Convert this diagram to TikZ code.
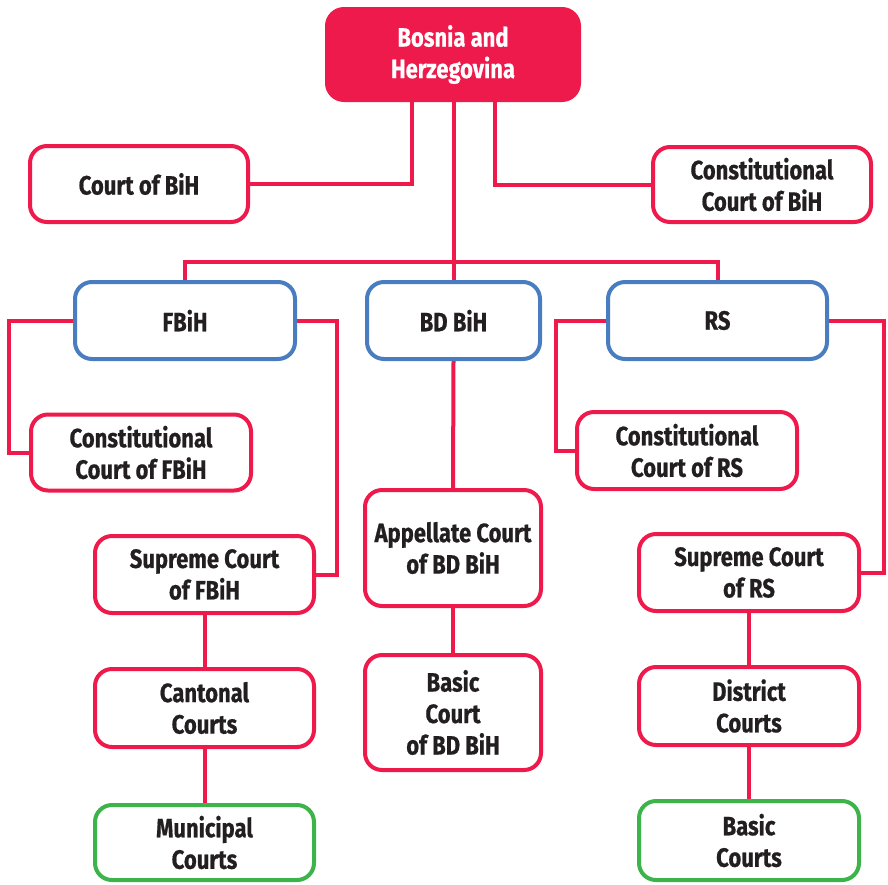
\documentclass[tikz,border=0pt]{standalone}
\usepackage{fontspec}
\setmainfont{Fira Sans}[UprightFont=* Bold, FakeStretch=0.83, FakeBold=0.6]
\usetikzlibrary{calc}
\pgfdeclarelayer{bg}
\pgfsetlayers{bg,main}
\definecolor{cred}{HTML}{ED1A4B}
\definecolor{cblue}{HTML}{4A7DC0}
\definecolor{cgreen}{HTML}{3CB44A}
\definecolor{ctext}{HTML}{231F20}
\begin{document}
\begin{tikzpicture}[x=1pt,y=-1pt,
  box/.style={draw=cred, line width=4pt, rounded corners=17pt, fill=white,
    align=center, text=ctext, inner sep=0pt,
    font=\fontsize{26.5}{31.5}\selectfont},
  redbox/.style={box},
  bluebox/.style={box, draw=cblue},
  greenbox/.style={box, draw=cgreen},
  topbox/.style={box, fill=cred, text=white},
  sz/.style 2 args={minimum width=#1pt, minimum height=#2pt},
  conn/.style={draw=cred, line width=4pt}]
\useasboundingbox (0,0) rectangle (888,884);
\coordinate (bar) at (453,262);
\coordinate (fl) at (9,0);
\coordinate (fr) at (337,0);
\coordinate (rl) at (556,0);
\coordinate (rr) at (884,0);
% nodes
\node[topbox, sz={252}{91}] (bih) at (453,54.5) {Bosnia and\\Herzegovina};
\node[redbox, sz={218}{76}] (court) at (139,184) {Court of BiH};
\node[redbox, sz={218}{75}] (constbih) at (762,184.5) {Constitutional\\Court of BiH};
\node[bluebox, sz={220}{77}] (fbih) at (185,320.5) {FBiH};
\node[bluebox, sz={173}{77}] (bd) at (453.5,320.5) {BD BiH};
\node[bluebox, sz={219}{77}] (rs) at (717.5,320.5) {RS};
\node[redbox, sz={220}{76}] (constf) at (141,452.5) {Constitutional\\Court of FBiH};
\node[redbox, sz={220}{77}] (constrs) at (687,450.5) {Constitutional\\Court of RS};
\node[redbox, sz={219}{77}] (supf) at (204.5,574.5) {Supreme Court\\of FBiH};
\node[redbox, sz={219}{78}] (cant) at (204.5,708) {Cantonal\\Courts};
\node[greenbox, sz={219}{75}] (muni) at (204.5,842.5) {Municipal\\Courts};
\node[redbox, sz={176}{116}] (app) at (453,548) {Appellate Court\\of BD BiH};
\node[redbox, sz={176}{115}] (basicbd) at (453,712.5) {Basic\\Court\\of BD BiH};
\node[redbox, sz={220}{77}] (suprs) at (749,572.5) {Supreme Court\\of RS};
\node[redbox, sz={220}{78}] (dist) at (749,706) {District\\Courts};
\node[greenbox, sz={220}{79}] (basic) at (749,840.5) {Basic\\Courts};
% connectors
\begin{pgfonlayer}{bg}
\draw[conn] ($(bih.south)+(-41,0)$) |- (court.east);
\draw[conn] ($(bih.south)+(42,0)$) |- (constbih.west);
\draw[conn] (bih.south -| bd.north) -- (bd.north);
\draw[conn] (fbih.north) -- (fbih.north |- bar) -- (rs.north |- bar) -- (rs.north);
\draw[conn] (fbih.west) -- (fbih.west -| fl) |- (constf.west);
\draw[conn] (fbih.east) -- (fbih.east -| fr) |- (supf.east);
\draw[conn] (rs.west) -- (rs.west -| rl) |- (constrs.west);
\draw[conn] (rs.east) -- (rs.east -| rr) |- (suprs.east);
\draw[conn] (bd.south) -- (app.north);
\draw[conn] (app.south) -- (basicbd.north);
\draw[conn] (supf.south) -- (cant.north);
\draw[conn] (cant.south) -- (muni.north);
\draw[conn] (suprs.south) -- (dist.north);
\draw[conn] (dist.south) -- (basic.north);
\end{pgfonlayer}
\end{tikzpicture}
\end{document}
